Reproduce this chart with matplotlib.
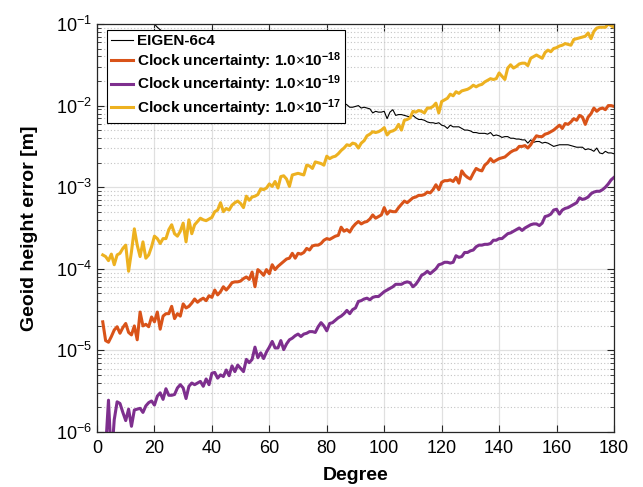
import numpy as np
import matplotlib
matplotlib.use("Agg")
import matplotlib.pyplot as plt
from matplotlib.ticker import LogLocator, NullFormatter, FixedLocator

plt.rcParams['font.family'] = ['Liberation Sans', 'DejaVu Sans']
plt.rcParams['mathtext.fontset'] = 'custom'
plt.rcParams['mathtext.rm'] = 'Liberation Sans'
plt.rcParams['mathtext.bf'] = 'Liberation Sans:bold'
plt.rcParams['mathtext.it'] = 'Liberation Sans:italic'

# ---------------- data (log10 of geoid height error in metres) ----------------
degree = list(range(2, 181))

clock_1e17_log10 = [
    -3.83, -3.85, -3.90, -3.82, -3.95, -3.83, -3.81, -3.75, -3.71, -4.03,
    -3.79, -3.51, -3.71, -3.85, -3.67, -3.87, -3.83, -3.73, -3.60, -3.63,
    -3.69, -3.63, -3.63, -3.52, -3.46, -3.57, -3.60, -3.54, -3.44, -3.67,
    -3.40, -3.57, -3.46, -3.42, -3.38, -3.40, -3.41, -3.39, -3.37, -3.30,
    -3.28, -3.19, -3.30, -3.26, -3.28, -3.22, -3.19, -3.17, -3.20, -3.25,
    -3.11, -3.16, -3.12, -3.11, -3.09, -3.02, -3.03, -3.01, -2.96, -2.99,
    -2.93, -3.01, -2.87, -2.86, -2.90, -2.99, -2.85, -2.84, -2.83, -2.84,
    -2.85, -2.73, -2.74, -2.77, -2.69, -2.70, -2.71, -2.73, -2.62, -2.65,
    -2.63, -2.62, -2.59, -2.55, -2.52, -2.48, -2.49, -2.46, -2.47, -2.52,
    -2.46, -2.43, -2.37, -2.35, -2.32, -2.33, -2.32, -2.30, -2.27, -2.36,
    -2.32, -2.31, -2.29, -2.23, -2.30, -2.18, -2.17, -2.15, -2.07, -2.08,
    -2.06, -2.07, -2.09, -2.03, -2.03, -2.01, -1.97, -2.09, -1.95, -1.93,
    -1.91, -1.86, -1.88, -1.83, -1.85, -1.82, -1.81, -1.80, -1.78, -1.75,
    -1.77, -1.75, -1.74, -1.71, -1.69, -1.67, -1.68, -1.67, -1.60, -1.64,
    -1.68, -1.54, -1.50, -1.54, -1.52, -1.49, -1.48, -1.48, -1.51, -1.42,
    -1.40, -1.38, -1.40, -1.42, -1.35, -1.32, -1.34, -1.30, -1.29, -1.27,
    -1.26, -1.24, -1.25, -1.26, -1.19, -1.18, -1.17, -1.16, -1.15, -1.11,
    -1.18, -1.09, -1.05, -1.04, -1.04, -1.04, -1.00, -1.02, -1.04,
]

clock_1e18_log10 = [
    -4.65, -4.88, -4.90, -4.83, -4.75, -4.71, -4.79, -4.72, -4.67, -4.78,
    -4.81, -4.70, -4.87, -4.53, -4.70, -4.68, -4.71, -4.59, -4.65, -4.53,
    -4.74, -4.58, -4.55, -4.55, -4.46, -4.61, -4.55, -4.58, -4.43, -4.48,
    -4.46, -4.42, -4.37, -4.41, -4.38, -4.36, -4.39, -4.33, -4.35, -4.26,
    -4.32, -4.28, -4.22, -4.26, -4.22, -4.17, -4.16, -4.16, -4.15, -4.12,
    -4.10, -4.13, -4.04, -4.22, -4.01, -4.04, -4.08, -4.01, -4.06, -3.95,
    -4.01, -3.97, -3.94, -3.91, -3.88, -3.87, -3.81, -3.87, -3.81, -3.82,
    -3.80, -3.75, -3.77, -3.72, -3.71, -3.71, -3.69, -3.65, -3.63, -3.64,
    -3.62, -3.60, -3.59, -3.49, -3.54, -3.52, -3.55, -3.49, -3.45, -3.42,
    -3.45, -3.43, -3.42, -3.39, -3.34, -3.38, -3.36, -3.34, -3.25, -3.33,
    -3.29, -3.30, -3.30, -3.25, -3.21, -3.17, -3.19, -3.16, -3.13, -3.12,
    -3.10, -3.10, -3.09, -3.06, -3.07, -3.03, -2.97, -3.03, -2.94, -2.92,
    -2.92, -2.91, -2.93, -2.88, -2.95, -2.80, -2.85, -2.88, -2.90, -2.83,
    -2.77, -2.79, -2.80, -2.73, -2.70, -2.65, -2.69, -2.67, -2.65, -2.64,
    -2.63, -2.60, -2.57, -2.55, -2.54, -2.50, -2.50, -2.49, -2.52, -2.48,
    -2.42, -2.37, -2.38, -2.38, -2.35, -2.34, -2.32, -2.30, -2.27, -2.24,
    -2.28, -2.22, -2.23, -2.20, -2.16, -2.18, -2.12, -2.14, -2.23, -2.14,
    -2.10, -2.03, -2.07, -2.04, -2.03, -2.05, -2.00, -2.00, -2.01,
]

clock_1e19_log10 = [
    -6.30, -6.20, -5.61, -6.35, -5.85, -5.63, -5.65, -5.76, -5.86, -5.72,
    -5.93, -5.73, -5.72, -5.71, -5.76, -5.68, -5.64, -5.62, -5.67, -5.56,
    -5.52, -5.60, -5.47, -5.55, -5.55, -5.54, -5.46, -5.42, -5.46, -5.59,
    -5.44, -5.40, -5.42, -5.40, -5.38, -5.44, -5.35, -5.42, -5.28, -5.27,
    -5.34, -5.30, -5.32, -5.24, -5.31, -5.19, -5.26, -5.18, -5.22, -5.26,
    -5.11, -5.15, -5.11, -4.96, -5.09, -5.03, -5.10, -5.02, -4.96, -4.89,
    -4.97, -4.97, -4.88, -4.99, -4.92, -4.87, -4.85, -4.82, -4.80, -4.83,
    -4.80, -4.79, -4.77, -4.77, -4.78, -4.71, -4.66, -4.70, -4.76, -4.67,
    -4.66, -4.63, -4.60, -4.58, -4.55, -4.51, -4.55, -4.50, -4.48, -4.40,
    -4.39, -4.37, -4.36, -4.38, -4.35, -4.34, -4.34, -4.31, -4.28, -4.26,
    -4.24, -4.22, -4.19, -4.19, -4.19, -4.17, -4.16, -4.17, -4.22, -4.19,
    -4.14, -4.08, -4.06, -4.03, -4.06, -4.03, -4.00, -3.95, -3.94, -3.92,
    -3.92, -3.93, -3.92, -3.84, -3.86, -3.85, -3.80, -3.80, -3.78, -3.77,
    -3.73, -3.71, -3.71, -3.70, -3.70, -3.69, -3.65, -3.65, -3.63, -3.63,
    -3.60, -3.57, -3.56, -3.54, -3.52, -3.50, -3.53, -3.50, -3.48, -3.46,
    -3.45, -3.45, -3.47, -3.44, -3.36, -3.35, -3.33, -3.28, -3.27, -3.33,
    -3.28, -3.26, -3.25, -3.23, -3.21, -3.19, -3.13, -3.15, -3.14, -3.12,
    -3.08, -3.06, -3.05, -3.05, -3.03, -3.00, -2.96, -2.91, -2.88,
]

eigen_degree = [19, 20, 21, 22, 23, 30, 40, 50, 60, 70, 80] + list(range(85, 181))
eigen_log10 = [
    -0.96, -1.00, -1.04, -1.07, -1.10, -1.22, -1.36, -1.50, -1.63, -1.76, -1.88,
    -1.95, -1.97, -1.99, -2.02, -2.02, -2.01, -2.00, -2.03, -2.02, -2.03,
    -2.04, -2.09, -2.07, -2.08, -2.08, -2.07, -2.16, -2.08, -2.05, -2.12,
    -2.11, -2.11, -2.12, -2.13, -2.14, -2.12, -2.15, -2.17, -2.17, -2.18,
    -2.20, -2.21, -2.21, -2.22, -2.21, -2.24, -2.25, -2.28, -2.24, -2.26,
    -2.26, -2.26, -2.28, -2.30, -2.30, -2.31, -2.33, -2.33, -2.34, -2.34,
    -2.34, -2.35, -2.33, -2.37, -2.36, -2.37, -2.39, -2.38, -2.38, -2.40,
    -2.40, -2.41, -2.41, -2.42, -2.42, -2.46, -2.42, -2.45, -2.44, -2.44,
    -2.46, -2.45, -2.46, -2.48, -2.50, -2.49, -2.48, -2.48, -2.48, -2.48,
    -2.49, -2.50, -2.51, -2.51, -2.51, -2.54, -2.53, -2.54, -2.56, -2.52,
    -2.58, -2.59, -2.56, -2.58, -2.58, -2.59,
]

labels = [
    'EIGEN-6c4',
    r'Clock uncertainty: 1.0$\times$10$^{\mathbf{-18}}$',
    r'Clock uncertainty: 1.0$\times$10$^{\mathbf{-19}}$',
    r'Clock uncertainty: 1.0$\times$10$^{\mathbf{-17}}$',
]
x_ticks = [0, 20, 40, 60, 80, 100, 120, 140, 160, 180]

# ---------------- figure ----------------
fig = plt.figure(figsize=(6.43, 4.87), dpi=100)
ax = fig.add_axes([97 / 643, 55 / 487, 517 / 643, 408 / 487])

ax.plot(eigen_degree, np.power(10.0, eigen_log10), color='black', lw=0.8, label=labels[0])
ax.plot(degree, np.power(10.0, clock_1e18_log10), color='#D95319', lw=2.2, label=labels[1])
ax.plot(degree, np.power(10.0, clock_1e19_log10), color='#7E2F8E', lw=2.2, label=labels[2])
ax.plot(degree, np.power(10.0, clock_1e17_log10), color='#EDB120', lw=2.2, label=labels[3])

ax.set_yscale('log')
ax.set_xlim(0, 180)
ax.set_ylim(1e-6, 1e-1)
ax.xaxis.set_major_locator(FixedLocator(x_ticks))
ax.yaxis.set_major_locator(LogLocator(base=10, numticks=10))
ax.yaxis.set_minor_locator(LogLocator(base=10, subs=np.arange(2, 10), numticks=20))
ax.yaxis.set_minor_formatter(NullFormatter())

ax.grid(True, which='major', color='#e0e0e0', lw=0.9, ls='-')
ax.grid(True, which='minor', axis='y', color='#c4c4c4', lw=0.8, ls=(0, (1, 2)))
ax.set_axisbelow(True)

for s in ax.spines.values():
    s.set_color('#262626')
    s.set_linewidth(0.9)
ax.tick_params(which='both', direction='in', top=True, right=True, colors='#262626',
               labelcolor='black', labelsize=13)
ax.tick_params(which='major', length=5, width=0.8)
ax.tick_params(which='minor', length=3, width=0.6)
ax.tick_params(axis='x', pad=6)

ax.set_xlabel('Degree', fontsize=14, fontweight='bold')
ax.set_ylabel('Geoid height error [m]', fontsize=14, fontweight='bold')
ax.xaxis.set_label_coords(0.5, -0.085)
ax.yaxis.set_label_coords(-0.114, 0.5)

leg = ax.legend(loc='upper left', bbox_to_anchor=(0.019, 0.986), borderaxespad=0,
                frameon=True, fancybox=False, framealpha=1, edgecolor='black',
                prop={'weight': 'bold', 'size': 11}, handlelength=1.4,
                handletextpad=0.25, labelspacing=0.12, borderpad=0.3)
leg.get_frame().set_linewidth(0.8)

fig.savefig('out.png', dpi=100)
